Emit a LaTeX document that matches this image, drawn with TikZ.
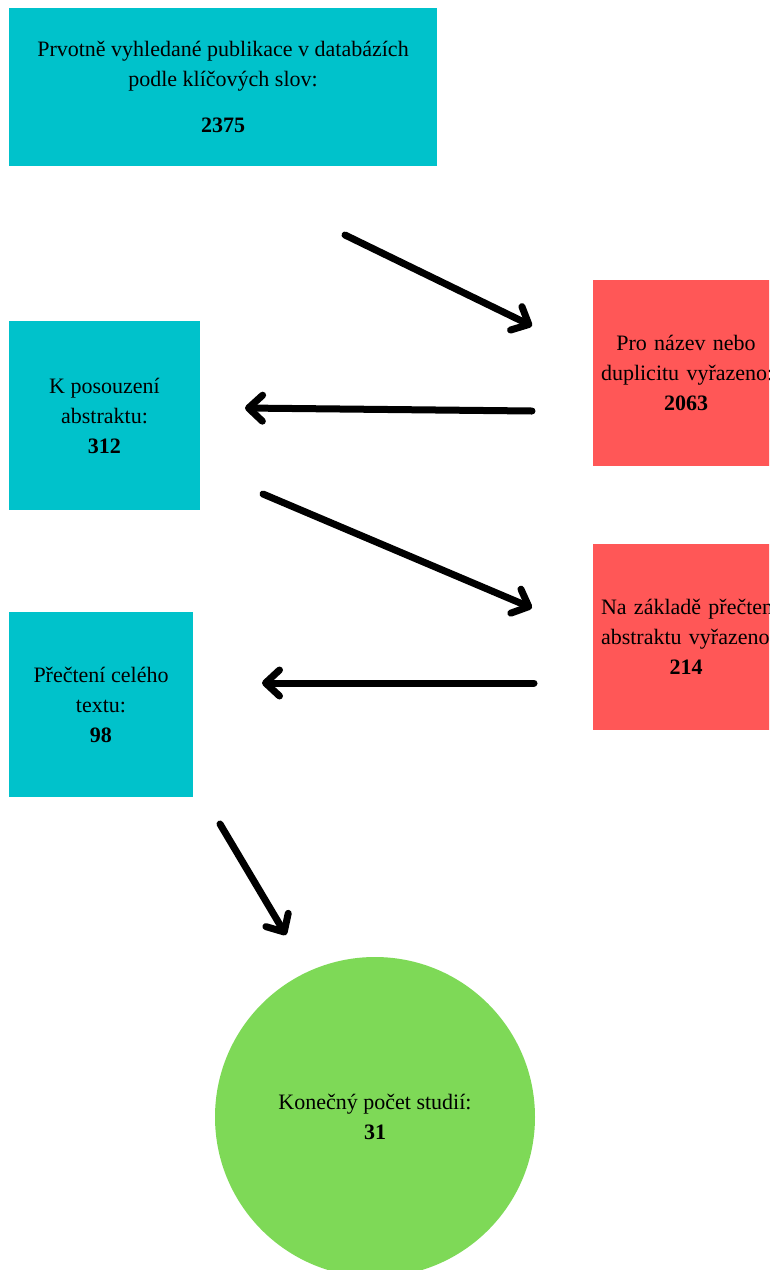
\documentclass[tikz,border=0pt]{standalone}
\usepackage{fontspec}
\setmainfont{Liberation Serif}
\usetikzlibrary{arrows.meta}
\definecolor{tyrkys}{HTML}{00C2CB}
\definecolor{cervena}{HTML}{FF5757}
\definecolor{zelena}{HTML}{7ED957}

\begin{document}
\begin{tikzpicture}[x=1pt,y=-1pt,
  krok/.style={fill=tyrkys,inner sep=0pt,align=center,font=\fontsize{22}{30}\selectfont},
  vyrazeno/.style={fill=cervena,inner sep=0pt,text width=170pt,align=center,minimum width=186pt,minimum height=186pt,font=\fontsize{22}{30}\selectfont},
  sipka/.style={line width=7pt,line cap=round,-{Straight Barb[round,length=14pt,width=26pt]}}]
\useasboundingbox (0,0) rectangle (769,1270);
\clip (0,0) rectangle (769,1270);
\node[krok,minimum width=428pt,minimum height=158pt] (hledane) at (223,87)
  {Prvotně vyhledané publikace v databázích\\podle klíčových slov:\\[16pt]\textbf{2375}};
\node[krok,minimum width=191pt,minimum height=189pt] (abstrakt) at (104.5,415.5)
  {K posouzení\\abstraktu:\\\textbf{312}};
\node[krok,minimum width=184pt,minimum height=185pt] (text) at (101,704.5)
  {Přečtení celého\\textu:\\\textbf{98}};
\node[vyrazeno] (duplicita) at (686,373)
  {\mbox{Pro název nebo}\\\mbox{duplicitu vyřazeno:}\\\textbf{2063}};
\node[vyrazeno] (precteni) at (686,637)
  {\mbox{Na základě přečtení}\\\mbox{abstraktu vyřazeno:}\\\textbf{214}};
\node[circle,fill=zelena,inner sep=0pt,minimum size=320pt,align=center,font=\fontsize{22}{30}\selectfont] (final) at (375,1117)
  {Konečný počet studií:\\\textbf{31}};
\coordinate (a1) at (345,235);
\coordinate (b1) at (532,326);
\coordinate (a2) at (532,411);
\coordinate (b2) at (245,408);
\coordinate (a3) at (263,494);
\coordinate (b3) at (532,608);
\coordinate (a4) at (534,683);
\coordinate (b4) at (262,683);
\coordinate (a5) at (220,824);
\coordinate (b5) at (286,935);
\foreach \z/\k in {a1/b1,a2/b2,a3/b3,a4/b4,a5/b5}
  \draw[sipka] (\z) -- (\k);
\end{tikzpicture}
\end{document}
